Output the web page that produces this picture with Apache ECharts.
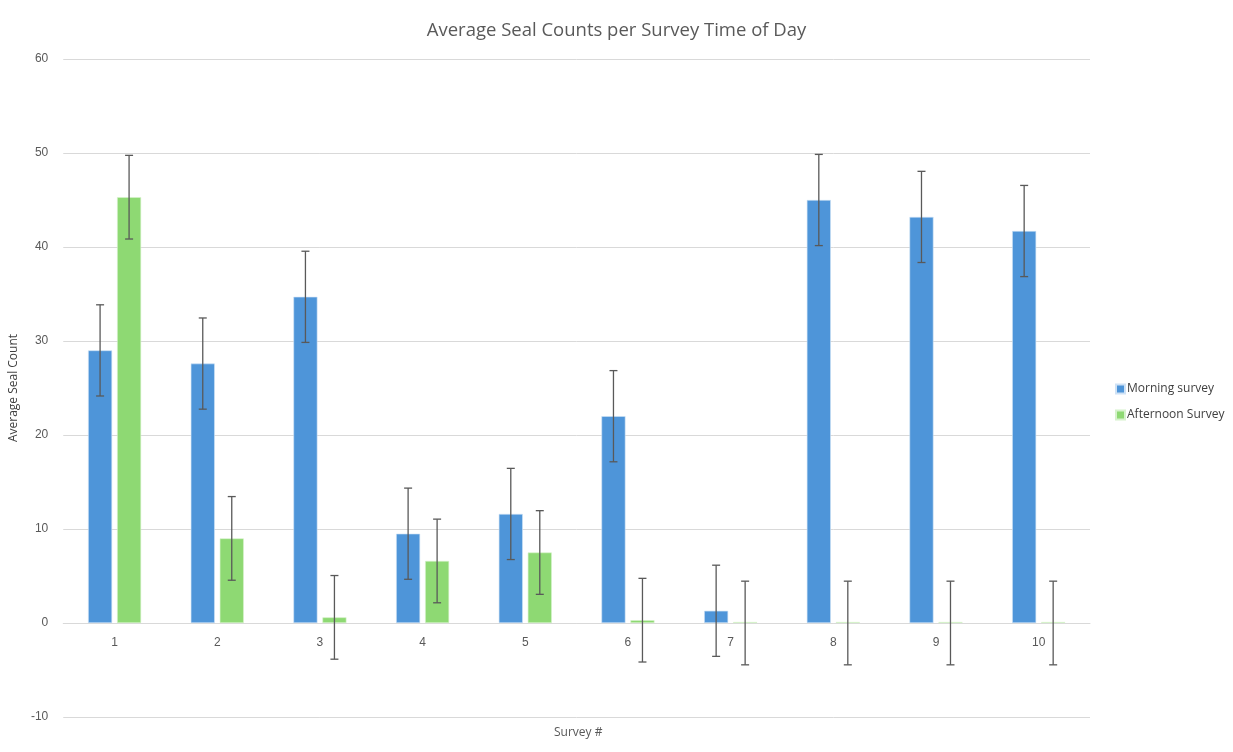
<!DOCTYPE html>
<html>
<head>
<meta charset="utf-8">
<script src="https://cdn.jsdelivr.net/npm/echarts@6/dist/echarts.min.js"></script>
<style>html,body{margin:0;padding:0;background:#fff;}#c{width:1233px;height:752px;}</style>
</head>
<body>
<div id="c"></div>
<script>
const categories = ['1','2','3','4','5','6','7','8','9','10'];
const morning = [29.0, 27.6, 34.7, 9.5, 11.6, 22.0, 1.3, 45.0, 43.2, 41.7];
const afternoon = [45.3, 9.0, 0.6, 6.6, 7.5, 0.3, 0, 0, 0, 0];
const morningErr = [4.85, 4.85, 4.85, 4.85, 4.85, 4.85, 4.85, 4.85, 4.85, 4.85];
const afternoonErr = [4.45, 4.45, 4.45, 4.45, 4.45, 4.45, 4.45, 4.45, 4.45, 4.45];
const yTicks = {min: -10, max: 60, interval: 10};

const GRID = {left: 62, right: 143, top: 59, bottom: 35};
const PLOT_H = 752 - GRID.top - GRID.bottom;
// place the category axis line on the zero value
const zeroOffset = -PLOT_H * (0 - yTicks.min) / (yTicks.max - yTicks.min);

const BAR_W = 24, GAP = 5;
function errSeries(vals, errs, side) {
  return {
    type: 'custom',
    z: 10,
    silent: true,
    data: vals.map((v, i) => [i, v, errs[i]]),
    renderItem: function (params, api) {
      const i = api.value(0), v = api.value(1), e = api.value(2);
      const top = api.coord([i, v + e]);
      const bot = api.coord([i, v - e]);
      const x = top[0] + side * (BAR_W + GAP) / 2;
      const cap = 4;
      const st = {stroke: '#595959', lineWidth: 1.3};
      return {type: 'group', children: [
        {type: 'line', shape: {x1: x, y1: top[1], x2: x, y2: bot[1]}, style: st},
        {type: 'line', shape: {x1: x - cap, y1: top[1], x2: x + cap, y2: top[1]}, style: st},
        {type: 'line', shape: {x1: x - cap, y1: bot[1], x2: x + cap, y2: bot[1]}, style: st}
      ]};
    }
  };
}

const chart = echarts.init(document.getElementById('c'));
chart.setOption({
  animation: false,
  textStyle: {fontFamily: 'Liberation Sans, Arial, sans-serif'},
  title: [{
    text: 'Average Seal Counts per Survey Time of Day',
    left: 'center', top: 16,
    textStyle: {fontFamily: 'Open Sans, sans-serif', fontSize: 18.5, fontWeight: 'normal', color: '#595959'}
  }, {
    text: 'Survey #',
    left: 549, top: 722,
    textStyle: {fontFamily: 'Open Sans, sans-serif', fontSize: 12, fontWeight: 'normal', color: '#595959'}
  }],
  legend: {
    orient: 'vertical', left: 1110, top: 378,
    itemWidth: 9, itemHeight: 9, itemGap: 14,
    icon: 'rect',
    textStyle: {fontFamily: 'Open Sans, sans-serif', fontSize: 12, color: '#404040', padding: [0, 0, 0, -3]},
    data: ['Morning survey', 'Afternoon Survey']
  },
  grid: Object.assign({containLabel: false}, GRID),
  xAxis: {
    type: 'category', data: categories,
    offset: zeroOffset,
    axisLine: {onZero: false, lineStyle: {color: '#d9d9d9', width: 1}},
    axisTick: {show: false},
    axisLabel: {color: '#595959', fontSize: 12, margin: 14}
  },
  yAxis: {
    type: 'value', min: yTicks.min, max: yTicks.max, interval: yTicks.interval,
    axisLine: {show: false}, axisTick: {show: false},
    axisLabel: {color: '#595959', fontSize: 12, margin: 15},
    splitLine: {lineStyle: {color: '#d9d9d9', width: 1}},
    name: 'Average Seal Count', nameLocation: 'middle', nameGap: 29,
    nameTextStyle: {fontFamily: 'Liberation Sans Narrow, Open Sans, sans-serif', color: '#404040', fontSize: 12}
  },
  series: [
    {name: 'Morning survey', type: 'bar', data: morning, barWidth: BAR_W, barGap: (GAP / BAR_W * 100) + '%',
      itemStyle: {color: '#4E95D9', borderColor: '#cfe2f5', borderWidth: 0.6}},
    {name: 'Afternoon Survey', type: 'bar', data: afternoon, barWidth: BAR_W, barMinHeight: 1,
      itemStyle: {color: '#8ED973', borderColor: '#d6f2cc', borderWidth: 0.6}},
    errSeries(morning, morningErr, -1),
    errSeries(afternoon, afternoonErr, 1)
  ]
});
</script>
</body>
</html>
